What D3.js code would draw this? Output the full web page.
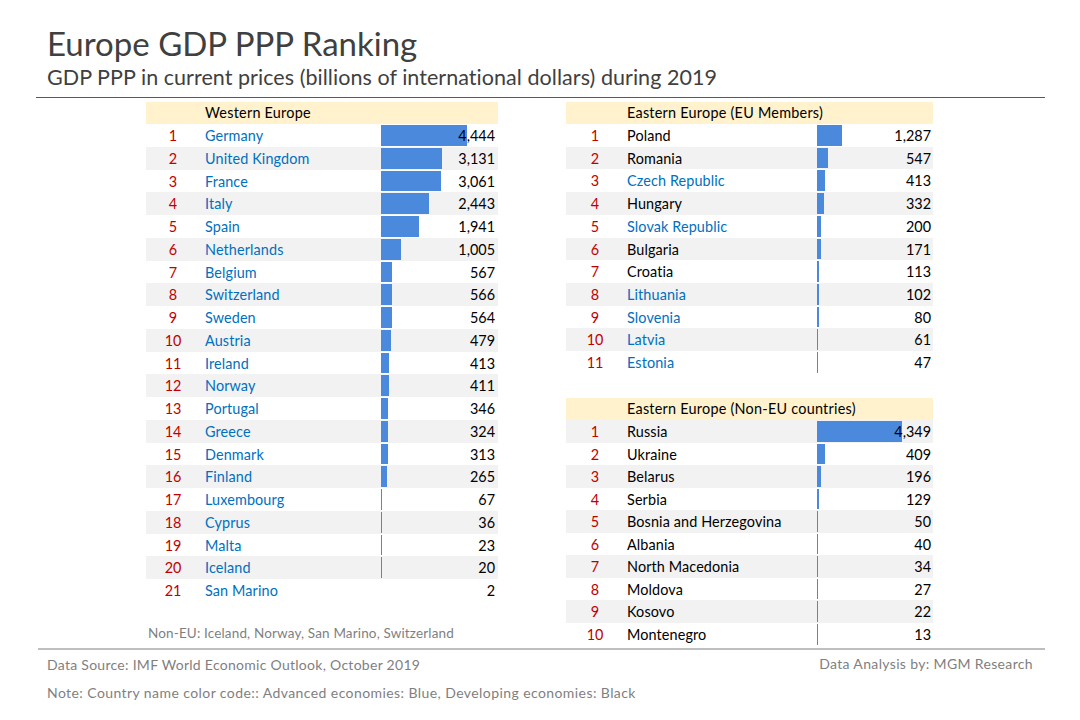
<!DOCTYPE html>
<html><head><meta charset="utf-8">
<script src="https://cdn.jsdelivr.net/npm/d3@7"></script>
<style>html,body{margin:0;padding:0;background:#fff}svg{display:block}text{font-family:Lato,"Open Sans",sans-serif}</style>
</head><body><div id="c"></div>
<script>
const westNames=["Germany","United Kingdom","France","Italy","Spain","Netherlands","Belgium","Switzerland","Sweden","Austria","Ireland","Norway","Portugal","Greece","Denmark","Finland","Luxembourg","Cyprus","Malta","Iceland","San Marino"];
const westValues=[4444,3131,3061,2443,1941,1005,567,566,564,479,413,411,346,324,313,265,67,36,23,20,2];
const westAdvanced=westNames;
const euNames=["Poland","Romania","Czech Republic","Hungary","Slovak Republic","Bulgaria","Croatia","Lithuania","Slovenia","Latvia","Estonia"];
const euValues=[1287,547,413,332,200,171,113,102,80,61,47];
const euAdvanced=["Czech Republic","Slovak Republic","Lithuania","Slovenia","Latvia","Estonia"];
const nonEuNames=["Russia","Ukraine","Belarus","Serbia","Bosnia and Herzegovina","Albania","North Macedonia","Moldova","Kosovo","Montenegro"];
const nonEuValues=[4349,409,196,129,50,40,34,27,22,13];
const nonEuAdvanced=[];
const tables=[
 {title:"Western Europe",names:westNames,values:westValues,adv:westAdvanced,x0:146,x1:498,rankX:173,nameX:205,barX:381,valX:495,top:102,step:22.75,shadeOdd:false},
 {title:"Eastern Europe (EU Members)",names:euNames,values:euValues,adv:euAdvanced,x0:566,x1:933,rankX:595,nameX:627,barX:817,valX:931,top:102,step:22.7,shadeOdd:false},
 {title:"Eastern Europe (Non-EU countries)",names:nonEuNames,values:nonEuValues,adv:nonEuAdvanced,x0:566,x1:933,rankX:595,nameX:627,barX:817,valX:931,top:398,step:22.55,shadeOdd:true}
];
const W=1080,H=720,fs=14.4,headH=22;
const svg=d3.select("#c").append("svg").attr("width",W).attr("height",H);
const width=d3.scaleLinear().domain([0,4444]).range([0,86]);
const fmt=d3.format(",");
svg.append("text").attr("x",47).attr("y",55.5).attr("font-size",33).attr("fill","#404040").text("Europe GDP PPP Ranking");
svg.append("text").attr("x",47).attr("y",85).attr("font-size",21.5).attr("letter-spacing",0.05).attr("fill","#404040").text("GDP PPP in current prices (billions of international dollars) during 2019");
svg.append("line").attr("x1",36).attr("x2",1045).attr("y1",97.5).attr("y2",97.5).attr("stroke","#595959");
tables.forEach(t=>{
  const g=svg.append("g");
  const y=d3.scaleBand().domain(t.names.map((_,i)=>i)).range([t.top+headH,t.top+headH+t.step*t.names.length]);
  g.append("rect").attr("x",t.x0).attr("y",t.top).attr("width",t.x1-t.x0).attr("height",headH).attr("fill","#fff2cc");
  g.append("text").attr("x",t.nameX).attr("y",t.top+16).attr("font-size",fs).attr("letter-spacing",0.25).attr("fill","#000").text(t.title);
  t.names.forEach((n,i)=>{
    const v=t.values[i],yy=Math.round(y(i)),h=Math.round(y(i)+t.step)-yy;
    if((i%2===0)===t.shadeOdd) g.append("rect").attr("x",t.x0).attr("y",yy).attr("width",t.x1-t.x0).attr("height",h).attr("fill","#f2f2f2");
    const bw=width(v);
    if(v>=10) g.append("rect").attr("x",t.barX).attr("y",yy+1).attr("width",bw<3?Math.max(1,Math.round(bw)):Math.ceil(bw)).attr("height",h-2).attr("fill","#4a89dc");
    const ty=y(i)+17;
    g.append("text").attr("x",t.rankX).attr("y",ty).attr("text-anchor","middle").attr("font-size",fs).attr("fill","#c00000").text(i+1);
    g.append("text").attr("x",t.nameX).attr("y",ty).attr("font-size",fs).attr("letter-spacing",0.12).attr("fill",t.adv.includes(n)?"#0070c0":"#000").text(n);
    g.append("text").attr("x",t.valX).attr("y",ty).attr("text-anchor","end").attr("font-size",fs).attr("fill","#000").text(fmt(v));
  });
});
svg.append("text").attr("x",148).attr("y",638).attr("font-size",13.5).attr("letter-spacing",0.15).attr("fill","#7f7f7f").text("Non-EU: Iceland, Norway, San Marino, Switzerland");
svg.append("line").attr("x1",38).attr("x2",1045).attr("y1",649).attr("y2",649).attr("stroke","#7f7f7f");
svg.append("text").attr("x",47).attr("y",670).attr("font-size",14).attr("letter-spacing",0.28).attr("fill","#7f7f7f").text("Data Source: IMF World Economic Outlook, October 2019");
svg.append("text").attr("x",1033).attr("y",669).attr("text-anchor","end").attr("font-size",14).attr("letter-spacing",0.35).attr("fill","#7f7f7f").text("Data Analysis by: MGM Research");
svg.append("text").attr("x",47).attr("y",698).attr("font-size",14).attr("letter-spacing",0.42).attr("fill","#7f7f7f").text("Note: Country name color code:: Advanced economies: Blue, Developing economies: Black");
</script></body></html>
